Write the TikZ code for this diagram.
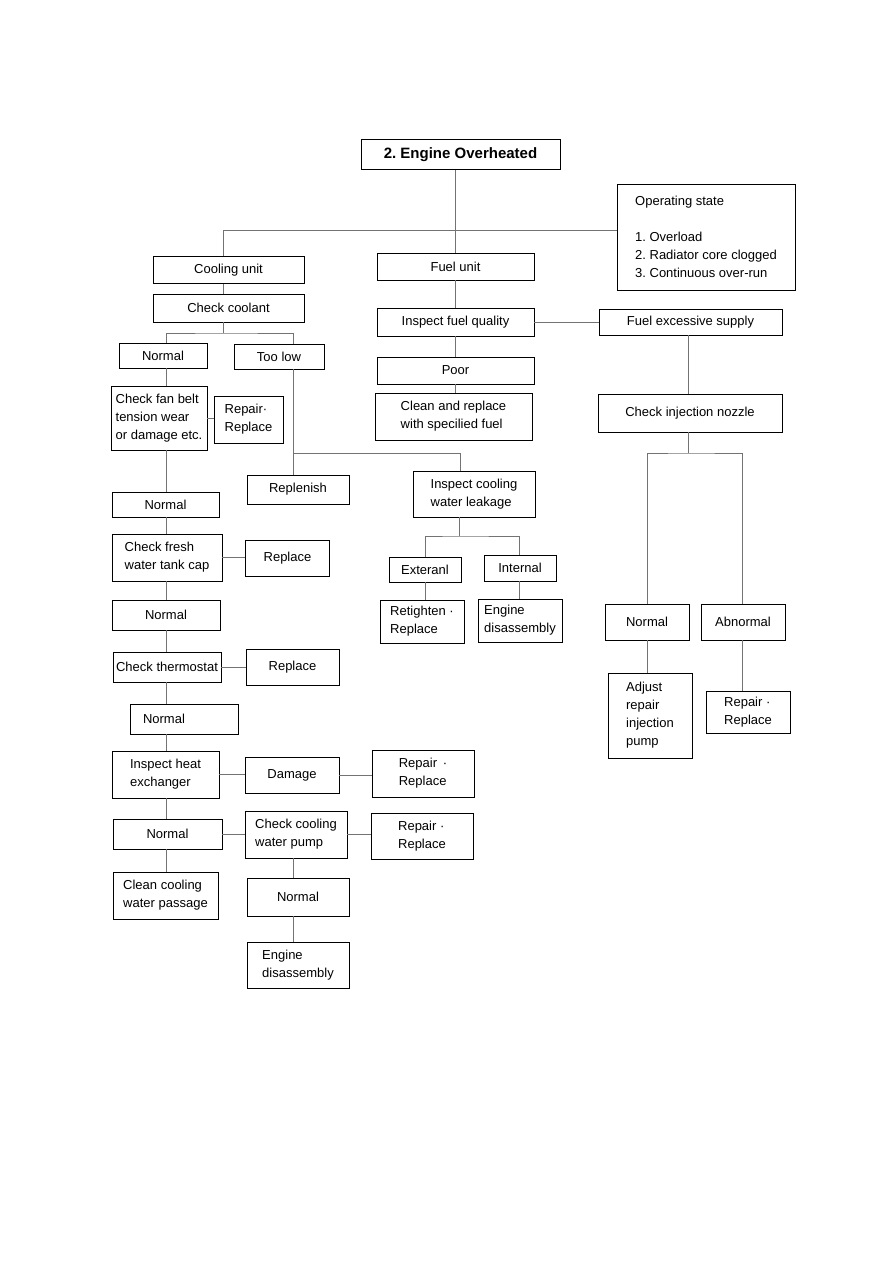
\documentclass[tikz,border=0pt]{standalone}
\usepackage{fontspec}
\setmainfont{Liberation Sans}
\usepackage{tikz}
\frenchspacing

\begin{document}
\begin{tikzpicture}[x=1pt, y=-1pt,
                        box/.style={draw, line width=0.9pt, inner sep=0pt, align=left,
                                    font=\fontsize{13}{18}\selectfont},
                        link/.style={draw=black!55, line width=1pt}]
        \useasboundingbox (0,0) rectangle (893,1262);
        % Nodes
        \node[box, minimum width=199pt, minimum height=30pt, font=\fontsize{15}{18}\selectfont\bfseries] (title) at (460.5,154.5) {2. Engine Overheated};
        \node[box, minimum width=178pt, minimum height=106pt] (opstate) at (706,237) {Operating state\\[18pt]1. Overload\\2. Radiator core clogged\\3. Continuous over-run};
        \node[box, minimum width=151pt, minimum height=27pt] (cool) at (228.5,270) {Cooling unit};
        \node[box, minimum width=151pt, minimum height=28pt] (coolant) at (228.5,308) {Check coolant};
        \node[box, minimum width=157pt, minimum height=27pt] (fuel) at (455.5,266.5) {Fuel unit};
        \node[box, minimum width=157pt, minimum height=28pt] (quality) at (455.5,322) {Inspect fuel quality};
        \node[box, minimum width=183pt, minimum height=26pt] (excess) at (690.5,322) {Fuel excessive supply};
        \node[box, minimum width=157pt, minimum height=27pt] (poor) at (455.5,370.5) {Poor};
        \node[box, minimum width=157pt, minimum height=47pt] (cleanfuel) at (453.5,416.5) {Clean and replace\\with specilied fuel};
        \node[box, minimum width=184pt, minimum height=38pt] (nozzle) at (690,413) {Check injection nozzle};
        \node[box, minimum width=88pt, minimum height=25pt] (norm1) at (163,355.5) {Normal};
        \node[box, minimum width=90pt, minimum height=25pt] (toolow) at (279,356.5) {Too low};
        \node[box, minimum width=96pt, minimum height=64pt] (fanbelt) at (159,418) {Check fan belt\\tension wear\\or damage etc.};
        \node[box, minimum width=69pt, minimum height=47pt] (repfan) at (248.5,419.5) {Repair·\\Replace};
        \node[box, minimum width=102pt, minimum height=29pt] (replenish) at (298,489.5) {Replenish};
        \node[box, minimum width=122pt, minimum height=46pt] (leak) at (474,494) {Inspect cooling\\water leakage};
        \node[box, minimum width=72pt, minimum height=25pt] (ext) at (425,569.5) {Exteranl};
        \node[box, minimum width=72pt, minimum height=26pt] (int) at (520,568) {Internal};
        \node[box, minimum width=84pt, minimum height=43pt] (retight) at (422,621.5) {Retighten ·\\Replace};
        \node[box, minimum width=84pt, minimum height=43pt] (engdisA) at (520,620.5) {Engine\\disassembly};
        \node[box, minimum width=107pt, minimum height=25pt] (norm2) at (165.5,504.5) {Normal};
        \node[box, minimum width=110pt, minimum height=47pt] (fresh) at (167,557.5) {Check fresh\\water tank cap};
        \node[box, minimum width=84pt, minimum height=36pt] (repcap) at (287.5,558) {Replace};
        \node[box, minimum width=108pt, minimum height=30pt] (norm3) at (166,615) {Normal};
        \node[box, minimum width=108pt, minimum height=30pt] (thermo) at (167,667) {Check thermostat};
        \node[box, minimum width=93pt, minimum height=36pt] (repthermo) at (292.5,667) {Replace};
        \node[box, minimum width=108pt, minimum height=30pt, text width=82pt] (norm4) at (184,719) {Normal};
        \node[box, minimum width=107pt, minimum height=47pt] (heat) at (165.5,774.5) {Inspect heat\\exchanger};
        \node[box, minimum width=94pt, minimum height=36pt] (damage) at (292,775) {Damage};
        \node[box, minimum width=102pt, minimum height=47pt] (repheat) at (423,773.5) {Repair \,·\\Replace};
        \node[box, minimum width=109pt, minimum height=30pt] (norm5) at (167.5,834) {Normal};
        \node[box, minimum width=102pt, minimum height=47pt] (pump) at (296,834.5) {Check cooling\\water pump};
        \node[box, minimum width=102pt, minimum height=46pt] (reppump) at (422,836.5) {Repair ·\\Replace};
        \node[box, minimum width=105pt, minimum height=47pt] (cleanpass) at (165.5,895.5) {Clean cooling\\water passage};
        \node[box, minimum width=102pt, minimum height=38pt] (norm6) at (298,897) {Normal};
        \node[box, minimum width=102pt, minimum height=46pt] (engdisB) at (298,965) {Engine\\disassembly};
        \node[box, minimum width=84pt, minimum height=36pt] (normR) at (647,622) {Normal};
        \node[box, minimum width=84pt, minimum height=36pt] (abnorm) at (743,622) {Abnormal};
        \node[box, minimum width=84pt, minimum height=85pt] (adjust) at (650,715.5) {Adjust\\repair\\injection\\pump};
        \node[box, minimum width=84pt, minimum height=42pt] (repR) at (748,712) {Repair ·\\Replace};
        % Junctions
        \coordinate (jtop) at (223,230);
        \coordinate (jcool) at (223,333);
        \coordinate (jlow) at (460,453);
        \coordinate (jleak) at (459,536);
        \coordinate (jnoz) at (688,453);
        \coordinate (lx) at (166,0);
        \coordinate (tx) at (293,0);
        \coordinate (ex) at (425,0);
        \coordinate (ix) at (519,0);
        \coordinate (rx) at (647,0);
        \coordinate (ax) at (742,0);
        % Edges
        \draw[link] (fuel.north) -- (fuel.north |- title.south);
        \draw[link] (cool.north -| jtop) -- (jtop) -- (jtop -| opstate.west);
        \draw[link] (cool.south -| jtop) -- (coolant.north -| jtop);
        \draw[link] (coolant.south -| jcool) -- (jcool);
        \draw[link] (norm1.north -| lx) |- (jcool) -| (toolow.north -| tx);
        \draw[link] (norm1.south -| lx) -- (fanbelt.north -| lx);
        \draw[link] (fanbelt.east) -- (fanbelt.east -| repfan.west);
        \draw[link] (fanbelt.south -| lx) -- (norm2.north -| lx);
        \draw[link] (norm2.south -| lx) -- (fresh.north -| lx);
        \draw[link] (fresh.east) -- (fresh.east -| repcap.west);
        \draw[link] (fresh.south -| lx) -- (norm3.north -| lx);
        \draw[link] (norm3.south -| lx) -- (thermo.north -| lx);
        \draw[link] (thermo.east) -- (thermo.east -| repthermo.west);
        \draw[link] (thermo.south -| lx) -- (norm4.north -| lx);
        \draw[link] (norm4.south -| lx) -- (heat.north -| lx);
        \draw[link] (heat.east) -- (heat.east -| damage.west);
        \draw[link] (damage.east) -- (damage.east -| repheat.west);
        \draw[link] (heat.south -| lx) -- (norm5.north -| lx);
        \draw[link] (norm5.east) -- (norm5.east -| pump.west);
        \draw[link] (pump.east) -- (pump.east -| reppump.west);
        \draw[link] (norm5.south -| lx) -- (cleanpass.north -| lx);
        \draw[link] (pump.south -| tx) -- (norm6.north -| tx);
        \draw[link] (norm6.south -| tx) -- (engdisB.north -| tx);
        \draw[link] (toolow.south -| tx) -- (replenish.north -| tx);
        \draw[link] (jlow -| tx) -- (jlow) -- (leak.north -| jlow);
        \draw[link] (leak.south -| jleak) -- (jleak);
        \draw[link] (ext.north -| ex) |- (jleak) -| (int.north -| ix);
        \draw[link] (ext.south -| ex) -- (retight.north -| ex);
        \draw[link] (int.south -| ix) -- (engdisA.north -| ix);
        \draw[link] (fuel.south) -- (quality.north);
        \draw[link] (quality.south) -- (poor.north);
        \draw[link] (poor.south) -- (poor.south |- cleanfuel.north);
        \draw[link] (quality.east) -- (quality.east -| excess.west);
        \draw[link] (excess.south -| jnoz) -- (nozzle.north -| jnoz);
        \draw[link] (nozzle.south -| jnoz) -- (jnoz);
        \draw[link] (normR.north -| rx) |- (jnoz) -| (abnorm.north -| ax);
        \draw[link] (normR.south -| rx) -- (adjust.north -| rx);
        \draw[link] (abnorm.south -| ax) -- (repR.north -| ax);
    \end{tikzpicture}
\end{document}
